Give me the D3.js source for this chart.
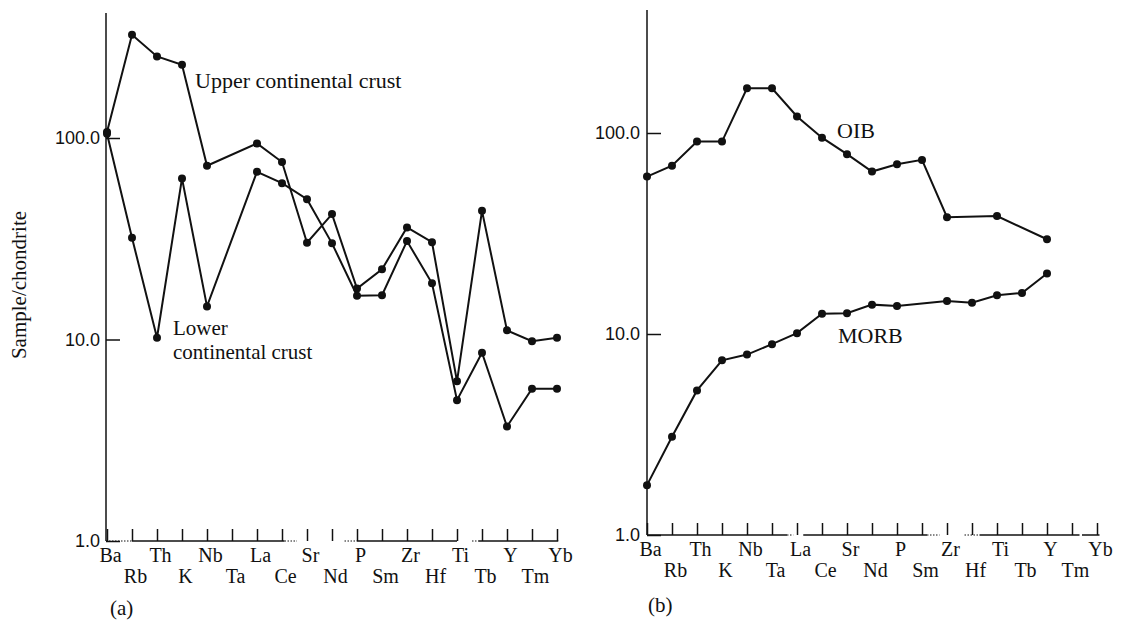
<!DOCTYPE html>
<html>
<head>
<meta charset="utf-8">
<script src="https://cdn.jsdelivr.net/npm/d3@7/dist/d3.min.js"></script>
<style>
  body { margin: 0; background: #fff; }
  svg { display: block; }
</style>
</head>
<body>
<div id="chart"></div>
<script>
// element order along the x axis (same in both panels)
const elements = ["Ba", "Rb", "Th", "K", "Nb", "Ta", "La", "Ce", "Sr", "Nd", "P", "Sm", "Zr", "Hf", "Ti", "Tb", "Y", "Tm", "Yb"];

// (a) continental crust, sample/chondrite (null = not plotted)
const upperCrust = [107, 325, 254, 231, 72.8, null, 94, 76, 30.2, 41.9, 17.9, 22.3, 36, 30.4, 6.2, 43.5, 11.1, 9.8, 10.2];
const lowerCrust = [105, 32, 10.2, 63, 14.6, null, 68, 59.7, 49.7, 30, 16.5, 16.6, 30.8, 19, 5.0, 8.6, 3.7, 5.7, 5.7];

// (b) oceanic basalts
const oib = [60.7, 68.8, 90.6, 90.6, 167, 167, 120.8, 94.8, 78.5, 64.3, 69.9, 73.5, 38.1, null, 38.6, null, 29.6, null, null];
const morb = [1.77, 3.08, 5.24, 7.4, 7.9, 8.9, 10.1, 12.6, 12.7, 14.0, 13.8, null, 14.6, 14.3, 15.6, 16.0, 20.0, null, null];

const yTicks = [1, 10, 100];

const SERIF = "'Liberation Serif', 'DejaVu Serif', serif";
const SANS = "'Liberation Sans', Arial, sans-serif";

const svg = d3.select('#chart')
  .append('svg')
  .attr('width', 1125)
  .attr('height', 624);

function drawPanel(cfg) {
  const g = svg.append('g');

  const x = d3.scalePoint()
    .domain(elements)
    .range(cfg.xRange);
  const step = x.step();
  // position between categories, in element units (the scanned baseline is broken)
  const xAt = t => cfg.xRange[0] + t * step;

  const y = d3.scaleLog()
    .domain([1, 100])
    .range(cfg.yRange);

  // y axis: ticks point inward, labels on the left
  const yAxis = g.append('g')
    .attr('transform', `translate(${cfg.axisX}, 0)`)
    .call(d3.axisLeft(y)
      .tickValues(yTicks)
      .tickSizeInner(-14)
      .tickSizeOuter(0)
      .tickPadding(cfg.yPad)
      .tickFormat(d3.format('.1f')));
  yAxis.select('.domain').remove();
  yAxis.selectAll('line').attr('stroke', '#111').attr('stroke-width', 1.5);
  yAxis.selectAll('text')
    .style('font-family', SANS)
    .style('font-size', '18px')
    .attr('fill', '#111');

  g.append('line')
    .attr('x1', cfg.axisX).attr('x2', cfg.axisX)
    .attr('y1', cfg.axisTop).attr('y2', y(1))
    .attr('stroke', '#111')
    .attr('stroke-width', 1.5);

  // x axis: small ticks pointing up, labels staggered on two rows
  const base = y(1);
  const xAxis = g.append('g')
    .attr('transform', `translate(0, ${base})`)
    .call(d3.axisBottom(x)
      .tickSizeInner(-12)
      .tickSizeOuter(0)
      .tickPadding(7));
  xAxis.select('.domain').remove();
  xAxis.selectAll('line').attr('stroke', '#111').attr('stroke-width', 1.5);
  xAxis.selectAll('text')
    .style('font-family', SERIF)
    .style('font-size', '20px')
    .attr('fill', '#111')
    .attr('dx', 3)
    .attr('y', (d, i) => i % 2 === 0 ? 7 : 28);

  g.selectAll(null)
    .data(cfg.baseSegments)
    .enter()
    .append('line')
    .attr('x1', d => xAt(d[0]))
    .attr('x2', d => xAt(d[1]))
    .attr('y1', base).attr('y2', base)
    .attr('stroke', '#111')
    .attr('stroke-width', d => d[2] ? 1 : 1.5)
    .attr('stroke-dasharray', d => d[2] ? '1.5,1.5' : null);

  // series
  const line = d3.line()
    .x(d => x(d.e))
    .y(d => y(d.v));

  cfg.series.forEach(values => {
    const pts = elements
      .map((e, i) => ({ e: e, v: values[i] }))
      .filter(d => d.v != null);

    g.append('path')
      .datum(pts)
      .attr('d', line)
      .attr('fill', 'none')
      .attr('stroke', '#111')
      .attr('stroke-width', 2);

    g.selectAll(null)
      .data(pts)
      .enter()
      .append('circle')
      .attr('cx', d => x(d.e))
      .attr('cy', d => y(d.v))
      .attr('r', 4)
      .attr('fill', '#111');
  });

  // in-plot labels
  cfg.labels.forEach(l => {
    g.append('text')
      .attr('x', l.x)
      .attr('y', l.y)
      .style('font-family', SERIF)
      .style('font-size', (l.size || 22) + 'px')
      .attr('fill', '#111')
      .text(l.text);
  });

  g.append('text')
    .attr('x', cfg.tag.x)
    .attr('y', cfg.tag.y)
    .style('font-family', SERIF)
    .style('font-size', '21px')
    .attr('fill', '#111')
    .text(cfg.tag.text);
}

drawPanel({
  xRange: [107, 557],
  yRange: [541, 138],
  axisX: 106,
  axisTop: 13,
  yPad: 6,
  // [from, to, dotted] in element units
  baseSegments: [[-0.04, 1.0, true], [1.0, 7.1], [7.1, 7.6, true], [9.5, 10.0, true], [10.0, 14.0], [14.6, 14.85, true], [14.85, 18.05]],
  series: [upperCrust, lowerCrust],
  labels: [
    { text: 'Upper continental crust', x: 195, y: 88 },
    { text: 'Lower', x: 173, y: 335, size: 21 },
    { text: 'continental crust', x: 173, y: 359, size: 21 }
  ],
  tag: { text: '(a)', x: 110, y: 615 }
});

drawPanel({
  xRange: [647, 1097],
  yRange: [535, 133],
  axisX: 647,
  axisTop: 10,
  yPad: 7,
  baseSegments: [[0, 5.6], [5.6, 5.85, true], [6.25, 11.2], [11.2, 11.7, true], [12.7, 13.3, true], [13.3, 17.3], [17.4, 18.1]],
  series: [oib, morb],
  labels: [
    { text: 'OIB', x: 837, y: 138 },
    { text: 'MORB', x: 838, y: 343 }
  ],
  tag: { text: '(b)', x: 648, y: 612 }
});

// y axis title of panel (a)
svg.append('text')
  .attr('transform', 'translate(26, 285) rotate(-90)')
  .attr('text-anchor', 'middle')
  .style('font-family', SERIF)
  .style('font-size', '21px')
  .attr('fill', '#111')
  .text('Sample/chondrite');
</script>
</body>
</html>
